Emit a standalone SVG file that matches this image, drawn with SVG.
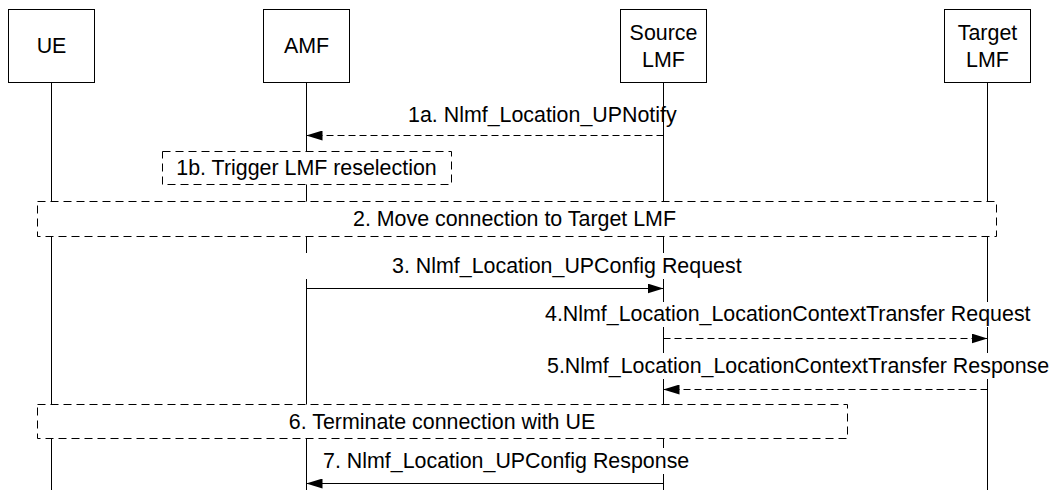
<svg xmlns="http://www.w3.org/2000/svg" width="1057" height="490" viewBox="0 0 1057 490">
<style>
text{font-family:"Liberation Sans",Arial,sans-serif;font-size:21.4px;fill:#000}
.box{fill:#fff;stroke:#000;stroke-width:1}
.life{stroke:#000;stroke-width:1;fill:none}
.step{fill:#fff;stroke:#000;stroke-width:1;stroke-dasharray:8 5}
.msg{stroke:#000;stroke-width:1;fill:none}
.dash{stroke-dasharray:7 4}
.bg{fill:#fff;stroke:none}
.c{text-anchor:middle}
</style>
<defs>
<marker id="ah" markerUnits="userSpaceOnUse" viewBox="0 0 16 10" refX="16" refY="5" markerWidth="16" markerHeight="10" orient="auto">
<path d="M0,0 L16,5 L0,10 Z" fill="#000" stroke="none"/>
</marker>
</defs>
<rect width="1057" height="490" fill="#fff"/>
<g id="UE">
<line class="life" x1="51.5" y1="82.5" x2="51.5" y2="490"/>
<rect class="box" x="8.5" y="9.5" width="86" height="73"/>
<text class="c" x="51.5" y="53.3">UE</text>
</g>
<g id="AMF">
<line class="life" x1="306.5" y1="82.5" x2="306.5" y2="490"/>
<rect class="box" x="263.5" y="9.5" width="86" height="73"/>
<text class="c" x="306.5" y="53.3">AMF</text>
</g>
<g id="SourceLMF">
<line class="life" x1="663.5" y1="82.5" x2="663.5" y2="490"/>
<rect class="box" x="620.5" y="9.5" width="86" height="73"/>
<text class="c" x="663.5" y="40">Source</text>
<text class="c" x="663.5" y="66.5">LMF</text>
</g>
<g id="TargetLMF">
<line class="life" x1="987.5" y1="82.5" x2="987.5" y2="490"/>
<rect class="box" x="944.5" y="9.5" width="86" height="73"/>
<text class="c" x="987.5" y="40">Target</text>
<text class="c" x="987.5" y="66.5">LMF</text>
</g>
<g id="step1b">
<rect class="step" x="162.5" y="151.5" width="289" height="33"/>
<text class="c" x="306.5" y="175">1b. Trigger LMF reselection</text>
</g>
<g id="step2">
<rect class="step" x="37.5" y="201.5" width="959" height="35"/>
<text class="c" x="514.5" y="226">2. Move connection to Target LMF</text>
</g>
<g id="step6">
<rect class="step" x="37.5" y="404.5" width="810" height="34"/>
<text class="c" x="442" y="429">6. Terminate connection with UE</text>
</g>
<g id="connectors">
<line class="msg dash" x1="663.5" y1="135.5" x2="306.5" y2="135.5" marker-end="url(#ah)"/>
<text x="408" y="122">1a. Nlmf_Location_UPNotify</text>
<rect class="bg" x="300" y="253" width="446" height="26"/>
<text x="392" y="273">3. Nlmf_Location_UPConfig Request</text>
<line class="msg" x1="306.5" y1="288.5" x2="663.5" y2="288.5" marker-end="url(#ah)"/>
<rect class="bg" x="540" y="302" width="500" height="25"/>
<text x="545" y="321">4.Nlmf_Location_LocationContextTransfer Request</text>
<line class="msg dash" x1="663.5" y1="338.5" x2="987.5" y2="338.5" marker-end="url(#ah)"/>
<rect class="bg" x="540" y="353" width="517" height="26"/>
<text x="547" y="373">5.Nlmf_Location_LocationContextTransfer Response</text>
<line class="msg dash" x1="987.5" y1="389.5" x2="663.5" y2="389.5" marker-end="url(#ah)"/>
<rect class="bg" x="318" y="448" width="374" height="26"/>
<text x="323" y="468">7. Nlmf_Location_UPConfig Response</text>
<line class="msg" x1="663.5" y1="483.5" x2="306.5" y2="483.5" marker-end="url(#ah)"/>
</g>
</svg>
